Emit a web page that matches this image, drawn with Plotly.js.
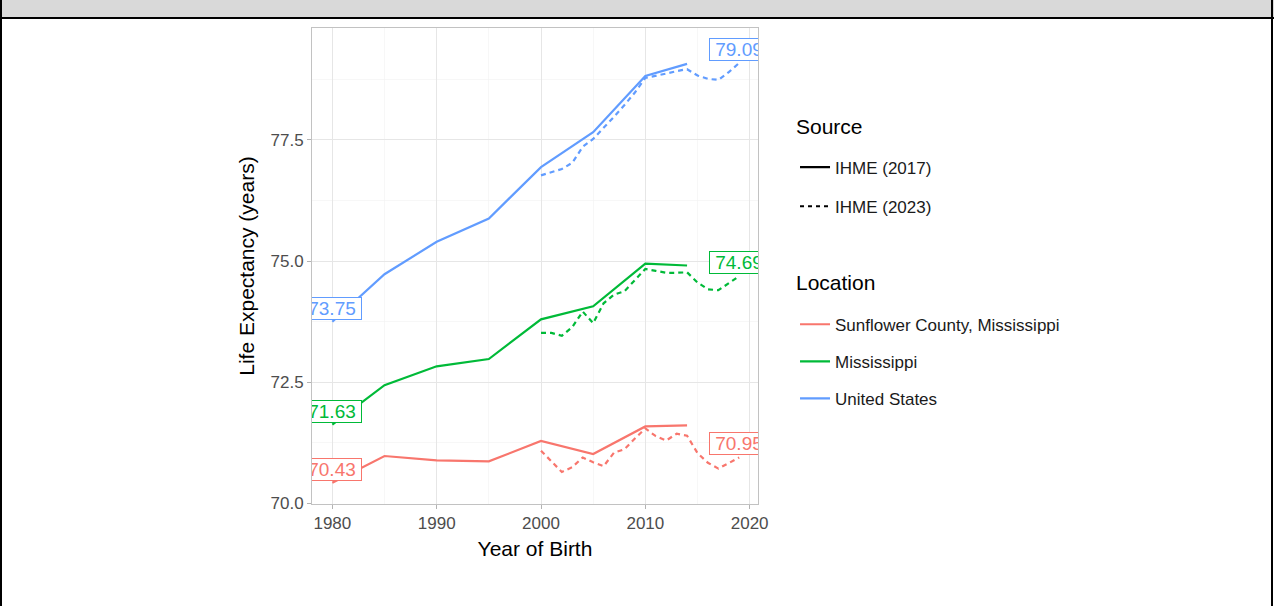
<!DOCTYPE html>
<html><head><meta charset="utf-8">
<script src="https://cdn.plot.ly/plotly-3.0.1.min.js"></script>
<style>
html,body{margin:0;padding:0;background:#fff;width:1274px;height:606px;overflow:hidden;}
#chart{position:absolute;left:0;top:0;width:1274px;height:606px;}
.frame{position:absolute;pointer-events:none;}
</style></head><body>
<div id="chart"></div>
<div class="frame" style="left:0;top:0;width:1274px;height:17px;background:#d9d9d9"></div>
<div class="frame" style="left:0;top:17px;width:1274px;height:2px;background:#000"></div>
<div class="frame" style="left:0;top:0;width:2px;height:606px;background:#000"></div>
<div class="frame" style="left:1271px;top:0;width:2px;height:606px;background:#000"></div>
<script>
// ---- data ----
const locations = ["Sunflower County, Mississippi", "Mississippi", "United States"];
const sources = ["IHME (2017)", "IHME (2023)"];
const legendTitles = ["Source", "Location"];
const years2017 = [1980, 1985, 1990, 1995, 2000, 2005, 2010, 2014];
const sunflower2017 = [70.43, 70.98, 70.89, 70.87, 71.29, 71.02, 71.59, 71.61];
const mississippi2017 = [71.63, 72.44, 72.83, 72.98, 73.80, 74.07, 74.95, 74.91];
const us2017 = [73.75, 74.73, 75.40, 75.88, 76.94, 77.66, 78.82, 79.07];
const years2023 = [2000, 2001, 2002, 2003, 2004, 2005, 2006, 2007, 2008, 2009, 2010, 2011, 2012, 2013, 2014, 2015, 2016, 2017, 2018, 2019];
const sunflower2023 = [71.09, 70.88, 70.65, 70.75, 70.95, 70.85, 70.77, 71.05, 71.12, 71.34, 71.55, 71.39, 71.30, 71.44, 71.40, 71.04, 70.84, 70.72, 70.84, 70.95];
const mississippi2023 = [73.52, 73.52, 73.46, 73.64, 73.96, 73.72, 74.13, 74.31, 74.38, 74.62, 74.84, 74.80, 74.76, 74.76, 74.77, 74.56, 74.42, 74.40, 74.55, 74.69];
const us2023 = [76.77, 76.83, 76.90, 77.03, 77.36, 77.52, 77.74, 77.98, 78.22, 78.48, 78.78, 78.82, 78.87, 78.92, 78.96, 78.83, 78.76, 78.74, 78.90, 79.09];
const xTicks = [1980, 1990, 2000, 2010, 2020];
const yTicks = [70.0, 72.5, 75.0, 77.5];

// ---- styles ----
const colors = ["#F8766D", "#00BA38", "#619CFF"];
const FONT = "Liberation Sans, Arial, Helvetica, sans-serif";
const DASH = "5px,4px";

const s2017 = [sunflower2017, mississippi2017, us2017];
const s2023 = [sunflower2023, mississippi2023, us2023];

const traces = [];
for (let i = 0; i < 3; i++) {
  traces.push({x: years2017, y: s2017[i], mode: "lines", showlegend: false, hoverinfo: "skip",
    line: {color: colors[i], width: 2.2}});
  traces.push({x: years2023, y: s2023[i], mode: "lines", showlegend: false, hoverinfo: "skip",
    line: {color: colors[i], width: 2.2, dash: DASH}});
}
// legend entries: Source
sources.forEach((s, k) => {
  traces.push({x: [null], y: [null], mode: "lines", name: s, legend: "legend", legendgroup: "src" + k,
    line: {color: "#000", width: 2.2, dash: k === 0 ? "solid" : "4px,4px"}});
});
// legend entries: Location
locations.forEach((l, i) => {
  traces.push({x: [null], y: [null], mode: "lines", name: l, legend: "legend2", legendgroup: "loc" + i,
    line: {color: colors[i], width: 2.2}});
});

// labels: first 2017 value and last 2023 value of each location
const annotations = [];
for (let i = 0; i < 3; i++) {
  const pts = [[years2017[0], s2017[i][0]], [years2023[years2023.length - 1], s2023[i][s2023[i].length - 1]]];
  pts.forEach(p => {
    annotations.push({x: p[0], y: p[1], xref: "x", yref: "y", text: p[1].toFixed(2), showarrow: false,
      yanchor: "bottom", yshift: 2, width: 58, borderpad: 0, name: "label",
      font: {family: FONT, size: 19, color: colors[i]}, bgcolor: "#ffffff", bordercolor: colors[i], borderwidth: 1});
  });
}
// legend titles
[[legendTitles[0], 0.794], [legendTitles[1], 0.4643]].forEach(t => {
  annotations.push({x: 1.081, y: t[1], xref: "paper", yref: "paper", text: t[0], showarrow: false,
    xanchor: "left", yanchor: "middle", font: {family: FONT, size: 21, color: "#000"}, name: "legtitle"});
});

const axisCommon = {
  showline: true, mirror: true, linecolor: "#C2C2C2", linewidth: 1,
  showgrid: true, gridcolor: "#E6E6E6", gridwidth: 1,
  ticks: "outside", ticklen: 4, tickcolor: "#B3B3B3", tickwidth: 1,
  tickfont: {family: FONT, size: 17, color: "#4D4D4D"},
  zeroline: false, automargin: false, fixedrange: true
};

const layout = {
  width: 1274, height: 606,
  margin: {l: 312, r: 516, t: 28, b: 102, pad: 0},
  paper_bgcolor: "#ffffff", plot_bgcolor: "#ffffff",
  font: {family: FONT, color: "#1a1a1a"},
  xaxis: Object.assign({}, axisCommon, {
    range: [1978.05, 2020.8], tickmode: "array", tickvals: xTicks, ticktext: xTicks.map(String),
    minor: {dtick: 5, tick0: 1975, showgrid: true, gridcolor: "#F2F2F2", gridwidth: 0.6, ticks: ""},
    title: {text: "Year of Birth", font: {family: FONT, size: 21, color: "#000"}, standoff: 8}
  }),
  yaxis: Object.assign({}, axisCommon, {
    range: [69.99, 79.81], tickmode: "array", tickvals: yTicks, ticktext: yTicks.map(v => v.toFixed(1)),
    minor: {dtick: 1.25, tick0: 70, showgrid: true, gridcolor: "#F2F2F2", gridwidth: 0.6, ticks: ""},
    title: {text: "Life Expectancy (years)", font: {family: FONT, size: 21, color: "#000"}, standoff: 10}
  }),
  legend: {x: 1.083, xanchor: "left", y: 0.7445, yanchor: "top", bgcolor: "rgba(0,0,0,0)",
    font: {family: FONT, size: 17, color: "#1a1a1a"}, itemwidth: 30, tracegroupgap: 14},
  legend2: {x: 1.083, xanchor: "left", y: 0.4145, yanchor: "top", bgcolor: "rgba(0,0,0,0)",
    font: {family: FONT, size: 17, color: "#1a1a1a"}, itemwidth: 30, tracegroupgap: 12},
  annotations: annotations,
  showlegend: true
};

Plotly.newPlot("chart", traces, layout, {displayModeBar: false, staticPlot: true}).then(gd => {
  // clip the value labels to the panel, as in the reference
  const sz = gd._fullLayout._size;
  const groups = gd.querySelectorAll("g.annotation");
  if (!groups.length) return;
  const svg = groups[0].ownerSVGElement;
  const NS = "http://www.w3.org/2000/svg";
  let defs = svg.querySelector("defs");
  if (!defs) { defs = document.createElementNS(NS, "defs"); svg.insertBefore(defs, svg.firstChild); }
  const cp = document.createElementNS(NS, "clipPath");
  cp.setAttribute("id", "panelclip");
  const r = document.createElementNS(NS, "rect");
  r.setAttribute("x", sz.l); r.setAttribute("y", sz.t);
  r.setAttribute("width", sz.w); r.setAttribute("height", sz.h);
  cp.appendChild(r); defs.appendChild(cp);
  groups.forEach((g, k) => {
    if (gd._fullLayout.annotations[k] && gd._fullLayout.annotations[k].xref === "x") {
      g.setAttribute("clip-path", "url(#panelclip)");
    }
  });
});
</script>
</body></html>
